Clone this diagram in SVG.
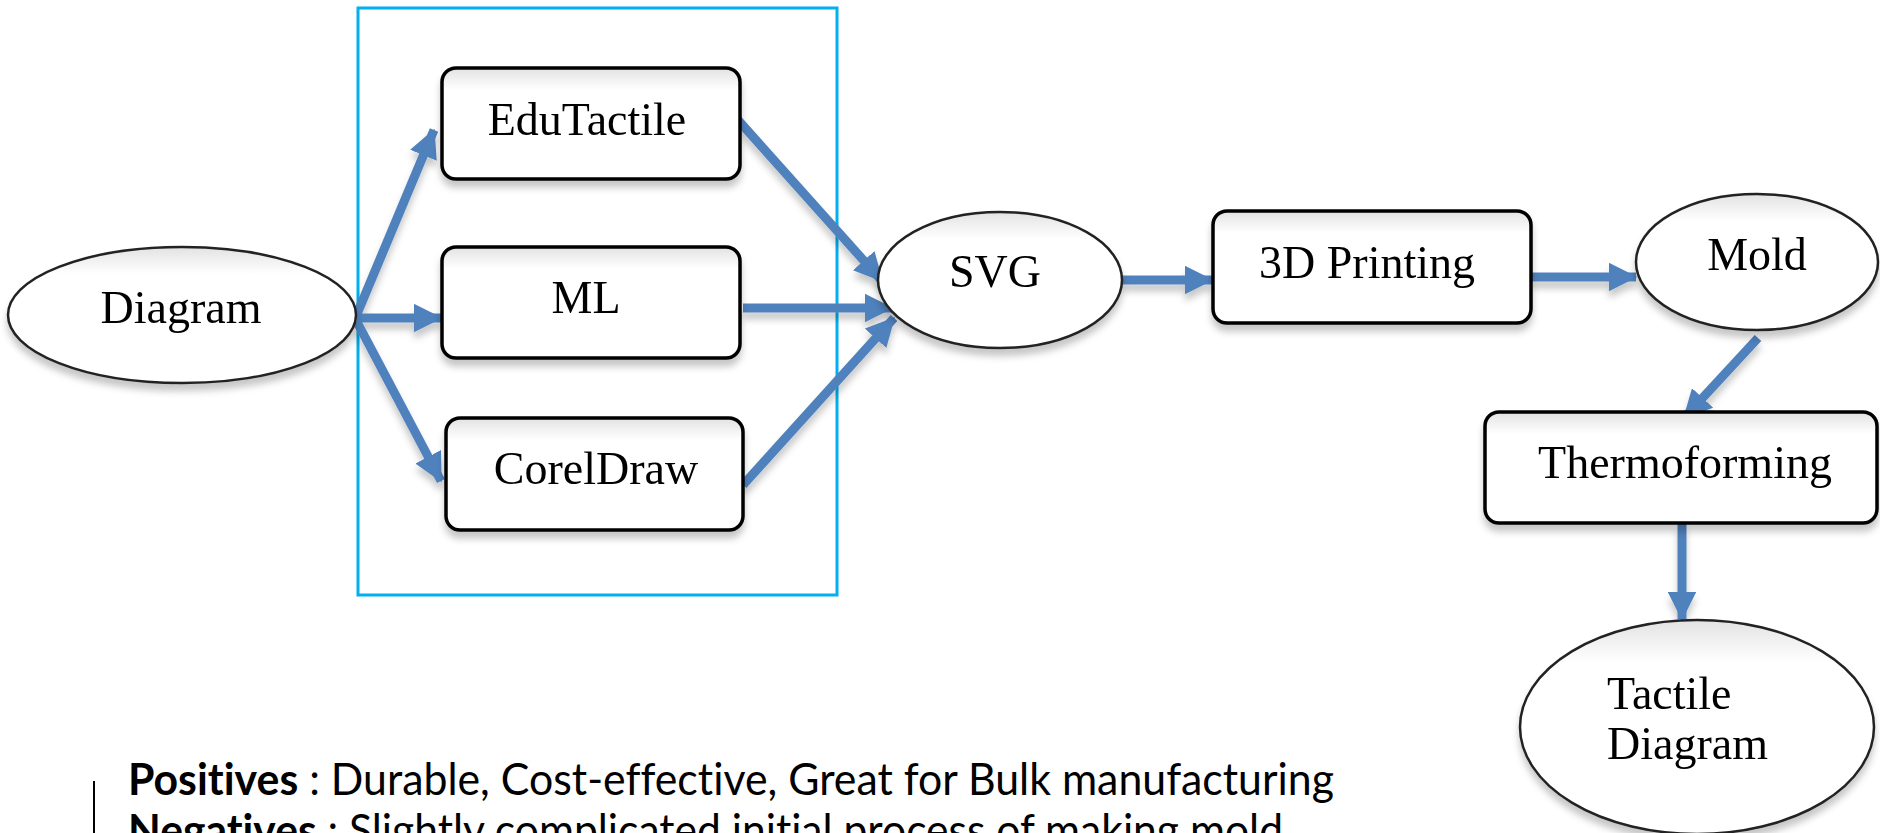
<svg xmlns="http://www.w3.org/2000/svg" width="1880" height="833" viewBox="0 0 1880 833">
  <defs>
    <filter id="shadow" x="-10%" y="-10%" width="120%" height="130%">
      <feDropShadow dx="0" dy="7" stdDeviation="3.5" flood-color="#000" flood-opacity="0.22"/>
    </filter>
    <linearGradient id="boxFill" x1="0" y1="0" x2="0" y2="1">
      <stop offset="0" stop-color="#e2e2e2"/>
      <stop offset="0.12" stop-color="#f4f4f4"/>
      <stop offset="0.2" stop-color="#ffffff"/>
      <stop offset="1" stop-color="#ffffff"/>
    </linearGradient>
    <marker id="head" viewBox="0 0 10 10" refX="9.5" refY="5" markerWidth="3.2" markerHeight="3.2" markerUnits="strokeWidth" orient="auto">
      <path d="M0,0 L10,5 L0,10 Z" fill="#4f81bd"/>
    </marker>
  </defs>
  <style>
    .box { fill: url(#boxFill); stroke: #000; stroke-width: 3.5; }
    .oval { fill: url(#boxFill); stroke: #222; stroke-width: 2.5; }
    .lbl { font-family: "Liberation Serif", "Times New Roman", serif; font-size: 46px; fill: #000; }
    .mid { text-anchor: middle; }
    .arrow { fill: none; stroke: #4f81bd; stroke-width: 9; marker-end: url(#head); }
    .note { font-family: Lato, "Open Sans", "Liberation Sans", sans-serif; font-size: 44px; fill: #000; font-variant-ligatures: none; }
  </style>

  <rect width="1880" height="833" fill="#fff"/>

  <!-- grouping frame around the conversion tools -->
  <rect id="tools-frame" x="358" y="8" width="479" height="587" fill="none" stroke="#00b0f0" stroke-width="3"/>

  <g id="connectors" filter="url(#shadow)">
    <line class="arrow" x1="357" y1="314" x2="434" y2="130"/>
    <line class="arrow" x1="357" y1="318" x2="441" y2="318"/>
    <line class="arrow" x1="357" y1="322" x2="441" y2="481"/>
    <line class="arrow" x1="738" y1="120" x2="882" y2="281"/>
    <line class="arrow" x1="743" y1="308" x2="892" y2="308"/>
    <line class="arrow" x1="743" y1="485" x2="894" y2="318"/>
    <line class="arrow" x1="1122" y1="280" x2="1212" y2="280"/>
    <line class="arrow" x1="1531" y1="277" x2="1636" y2="277"/>
    <line class="arrow" x1="1758" y1="338" x2="1684" y2="418"/>
    <line class="arrow" x1="1682" y1="524" x2="1682" y2="619"/>
  </g>

  <g id="diagram" filter="url(#shadow)">
    <ellipse class="oval" cx="182" cy="315" rx="174" ry="68"/>
    <text class="lbl mid" x="181" y="323">Diagram</text>
  </g>

  <g id="edutactile" filter="url(#shadow)">
    <rect class="box" x="442" y="68" width="298" height="111" rx="14"/>
    <text class="lbl mid" x="587" y="135">EduTactile</text>
  </g>

  <g id="ml" filter="url(#shadow)">
    <rect class="box" x="442" y="247" width="298" height="111" rx="14"/>
    <text class="lbl mid" x="586" y="313">ML</text>
  </g>

  <g id="coreldraw" filter="url(#shadow)">
    <rect class="box" x="446" y="418" width="297" height="112" rx="14"/>
    <text class="lbl mid" x="596" y="484">CorelDraw</text>
  </g>

  <g id="svg" filter="url(#shadow)">
    <ellipse class="oval" cx="1000" cy="280" rx="122" ry="68"/>
    <text class="lbl mid" x="995" y="287">SVG</text>
  </g>

  <g id="printing" filter="url(#shadow)">
    <rect class="box" x="1213" y="211" width="318" height="112" rx="14"/>
    <text class="lbl mid" x="1367" y="278">3D Printing</text>
  </g>

  <g id="mold" filter="url(#shadow)">
    <ellipse class="oval" cx="1757" cy="262" rx="121" ry="68"/>
    <text class="lbl mid" x="1757" y="270">Mold</text>
  </g>

  <g id="thermoforming" filter="url(#shadow)">
    <rect class="box" x="1485" y="412" width="392" height="111" rx="14"/>
    <text class="lbl mid" x="1685" y="478">Thermoforming</text>
  </g>

  <g id="tactile-diagram" filter="url(#shadow)">
    <ellipse class="oval" cx="1697" cy="727" rx="177" ry="107"/>
    <text class="lbl" x="1607" y="709">Tactile</text>
    <text class="lbl" x="1607" y="759">Diagram</text>
  </g>

  <!-- notes on the process -->
  <g id="notes">
    <line x1="94" y1="781" x2="94" y2="833" stroke="#000" stroke-width="2"/>
    <text class="note" x="128" y="795" textLength="1206" lengthAdjust="spacingAndGlyphs"><tspan font-weight="bold">Positives</tspan> : Durable, Cost-effective, Great for Bulk manufacturing</text>
    <text class="note" x="128" y="846" textLength="1155" lengthAdjust="spacingAndGlyphs"><tspan font-weight="bold">Negatives</tspan> : Slightly complicated initial process of making mold</text>
  </g>
</svg>
